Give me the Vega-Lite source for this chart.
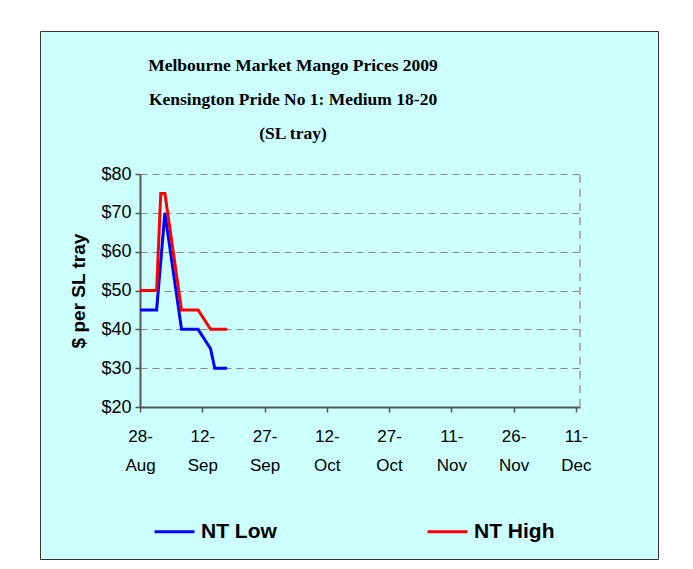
{
  "$schema": "https://vega.github.io/schema/vega-lite/v6.json",
  "width": 618,
  "height": 528,
  "autosize": "none",
  "padding": {"left": 40, "top": 31, "right": 35, "bottom": 10},
  "background": "white",
  "config": {
    "view": {"fill": "#CCFFFF", "stroke": "#333333", "strokeWidth": 1}
  },
  "title": {
    "text": ["Melbourne Market Mango Prices 2009", "Kensington Pride No 1: Medium 18-20", "(SL tray)"],
    "font": "Liberation Serif",
    "fontWeight": "bold",
    "fontSize": 17.5,
    "lineHeight": 34,
    "color": "black",
    "frame": "group",
    "anchor": "middle",
    "dx": -56,
    "offset": -111
  },
  "data": {
    "values": [
      {"date": "2009-08-28", "series": "NT Low", "price": 45},
      {"date": "2009-09-01", "series": "NT Low", "price": 45},
      {"date": "2009-09-03", "series": "NT Low", "price": 70},
      {"date": "2009-09-07", "series": "NT Low", "price": 40},
      {"date": "2009-09-11", "series": "NT Low", "price": 40},
      {"date": "2009-09-14", "series": "NT Low", "price": 35},
      {"date": "2009-09-15", "series": "NT Low", "price": 30},
      {"date": "2009-09-18", "series": "NT Low", "price": 30},
      {"date": "2009-08-28", "series": "NT High", "price": 50},
      {"date": "2009-09-01", "series": "NT High", "price": 50},
      {"date": "2009-09-02", "series": "NT High", "price": 75},
      {"date": "2009-09-03", "series": "NT High", "price": 75},
      {"date": "2009-09-07", "series": "NT High", "price": 45},
      {"date": "2009-09-11", "series": "NT High", "price": 45},
      {"date": "2009-09-14", "series": "NT High", "price": 40},
      {"date": "2009-09-18", "series": "NT High", "price": 40}
    ]
  },
  "layer": [
    {
      "mark": {"type": "line", "strokeWidth": 3, "strokeJoin": "miter"},
      "encoding": {
        "x": {
          "field": "date",
          "type": "temporal",
          "scale": {
            "type": "utc",
            "domain": [
              {"year": 2009, "month": 8, "date": 28, "utc": true},
              {"year": 2009, "month": 12, "date": 12, "utc": true}
            ],
            "range": [100, 540],
            "nice": false
          },
          "axis": {
            "title": null,
            "orient": "bottom",
            "offset": -152,
            "grid": false,
            "values": [
              {"year": 2009, "month": 8, "date": 28, "utc": true},
              {"year": 2009, "month": 9, "date": 12, "utc": true},
              {"year": 2009, "month": 9, "date": 27, "utc": true},
              {"year": 2009, "month": 10, "date": 12, "utc": true},
              {"year": 2009, "month": 10, "date": 27, "utc": true},
              {"year": 2009, "month": 11, "date": 11, "utc": true},
              {"year": 2009, "month": 11, "date": 26, "utc": true},
              {"year": 2009, "month": 12, "date": 11, "utc": true}
            ],
            "labelExpr": "[utcFormat(datum.value, '%-d') + '-', utcFormat(datum.value, '%b')]",
            "labelFont": "Liberation Sans",
            "labelFontSize": 17,
            "labelColor": "black",
            "labelLineHeight": 29,
            "labelPadding": 16,
            "labelFlush": false,
            "labelOverlap": false,
            "domainColor": "#555555",
            "domainWidth": 2,
            "tickColor": "#555555",
            "tickWidth": 1.5,
            "tickSize": 5
          }
        },
        "y": {
          "field": "price",
          "type": "quantitative",
          "scale": {"domain": [20, 80], "range": [376, 143], "nice": false, "zero": false},
          "axis": {
            "title": "$ per SL tray",
            "titleFont": "Liberation Sans",
            "titleFontWeight": "bold",
            "titleFontSize": 19,
            "titleColor": "black",
            "titlePadding": 12,
            "orient": "left",
            "offset": -100,
            "values": [20, 30, 40, 50, 60, 70, 80],
            "format": "$,.0f",
            "labelFont": "Liberation Sans",
            "labelFontSize": 18,
            "labelColor": "black",
            "labelPadding": 4,
            "labelFlush": false,
            "domainColor": "#555555",
            "domainWidth": 2,
            "tickColor": "#555555",
            "tickWidth": 1.5,
            "tickSize": 5,
            "grid": true,
            "gridColor": "#888888",
            "gridWidth": 1.2,
            "gridDash": [7, 5]
          }
        },
        "color": {
          "field": "series",
          "type": "nominal",
          "sort": ["NT Low", "NT High"],
          "scale": {"domain": ["NT Low", "NT High"], "range": ["#0000FF", "#FF0000"]},
          "legend": {
            "title": null,
            "orient": "none",
            "direction": "horizontal",
            "columns": 2,
            "legendX": 113,
            "legendY": 479,
            "symbolType": "stroke",
            "symbolSize": 1600,
            "symbolStrokeWidth": 3,
            "labelFont": "Liberation Sans",
            "labelFontWeight": "bold",
            "labelFontSize": 21,
            "labelColor": "black",
            "labelOffset": 5,
            "columnPadding": 144
          }
        }
      }
    },
    {
      "mark": {"type": "rule", "color": "#B0B0B0", "strokeWidth": 1.5, "strokeDash": [8, 6]},
      "encoding": {
        "x": {"datum": {"year": 2009, "month": 12, "date": 12, "utc": true}, "type": "temporal"},
        "y": {"datum": 20, "type": "quantitative"},
        "y2": {"datum": 80}
      }
    }
  ]
}
